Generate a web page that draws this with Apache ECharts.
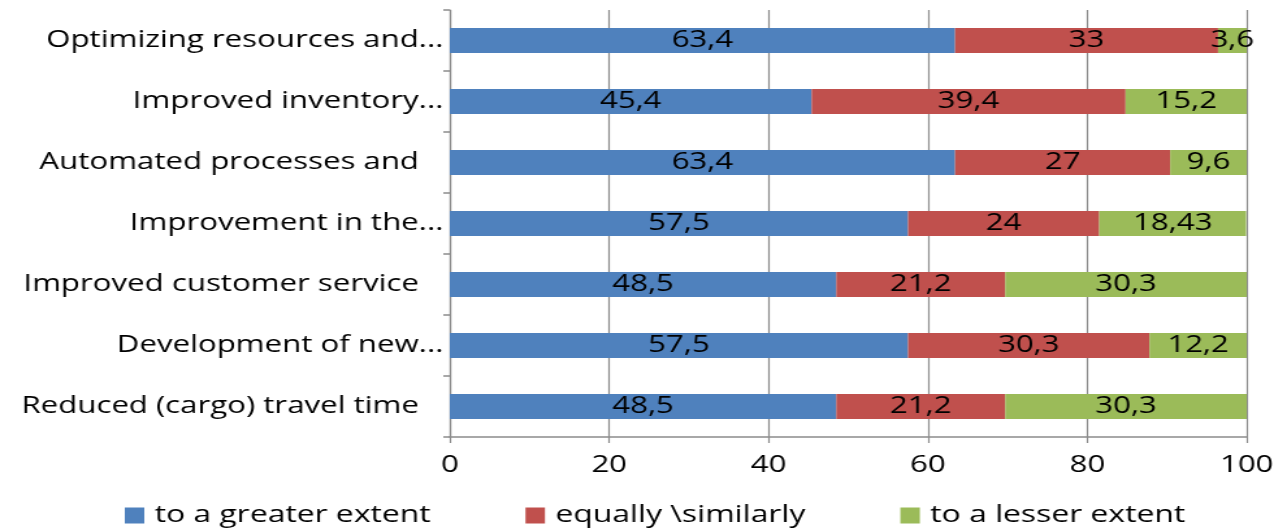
<!DOCTYPE html>
<html>
<head>
<meta charset="utf-8">
<script src="https://cdn.jsdelivr.net/npm/echarts@6/dist/echarts.min.js"></script>
<style>
  html, body { margin: 0; padding: 0; background: #fff; overflow: hidden; }
  /* the chart is drawn narrower and widened, giving the wide-set lettering */
  #wrap { width: 1287px; height: 532px; overflow: hidden; }
  #chart { width: 990px; height: 532px; transform: scaleX(1.3); transform-origin: 0 0; }
</style>
</head>
<body>
<div id="wrap"><div id="chart"></div></div>
<script>
// Survey categories, listed top to bottom
const categories = [
  'Optimizing resources and...',
  'Improved inventory...',
  'Automated processes and   ',
  'Improvement in the...',
  'Improved customer service   ',
  'Development of new...',
  'Reduced (cargo) travel time   '
];
const seriesNames = ['to a greater extent', 'equally \\similarly', 'to a lesser extent'];
const greater = [63.4, 45.4, 63.4, 57.5, 48.5, 57.5, 48.5];
const equally = [33, 39.4, 27, 24, 21.2, 30.3, 21.2];
const lesser = [3.6, 15.2, 9.6, 18.43, 30.3, 12.2, 30.3];
const xTicks = [0, 20, 40, 60, 80, 100];

const FONT = '"Open Sans", sans-serif';
const FS = 24;
const colors = ['#4F81BD', '#C0504D', '#9BBB59'];
const axisGray = '#8c8c8c';

function fmt(v) { return String(v).replace('.', ','); }

const chart = echarts.init(document.getElementById('chart'), null, { renderer: 'canvas' });

function bar(name, data, color) {
  return {
    name, type: 'bar', stack: 'total', data,
    barWidth: 25,
    itemStyle: { color },
    label: {
      show: true, position: 'inside', color: '#000',
      fontFamily: FONT, fontSize: FS,
      formatter: p => fmt(p.value)
    }
  };
}

chart.setOption({
  animation: false,
  textStyle: { fontFamily: FONT },
  grid: { left: 346, right: 31, top: 10, bottom: 95, containLabel: false },
  legend: {
    top: 503, left: 96, padding: 0, itemWidth: 15, itemHeight: 16, itemGap: 73,
    icon: 'rect',
    textStyle: { fontFamily: FONT, fontSize: 24.5, lineHeight: 24, color: '#000', padding: [0, 0, 0, 3] },
    data: seriesNames
  },
  xAxis: {
    type: 'value', min: xTicks[0], max: xTicks[xTicks.length - 1], interval: 20,
    axisLine: { show: true, lineStyle: { color: axisGray, width: 1.5 } },
    axisTick: { show: true, length: 6, lineStyle: { color: axisGray, width: 1.2 } },
    splitLine: { show: true, lineStyle: { color: axisGray, width: 1.2 } },
    axisLabel: { fontFamily: FONT, fontSize: FS, color: '#000', margin: 16 }
  },
  yAxis: {
    type: 'category', inverse: true, data: categories,
    axisLine: { show: true, lineStyle: { color: axisGray, width: 1.2 } },
    axisTick: { show: true, length: 5, lineStyle: { color: axisGray, width: 1.5 } },
    axisLabel: { fontFamily: FONT, fontSize: FS, color: '#000', margin: 5 }
  },
  series: [
    bar(seriesNames[0], greater, colors[0]),
    bar(seriesNames[1], equally, colors[1]),
    bar(seriesNames[2], lesser, colors[2])
  ]
});
</script>
</body>
</html>
